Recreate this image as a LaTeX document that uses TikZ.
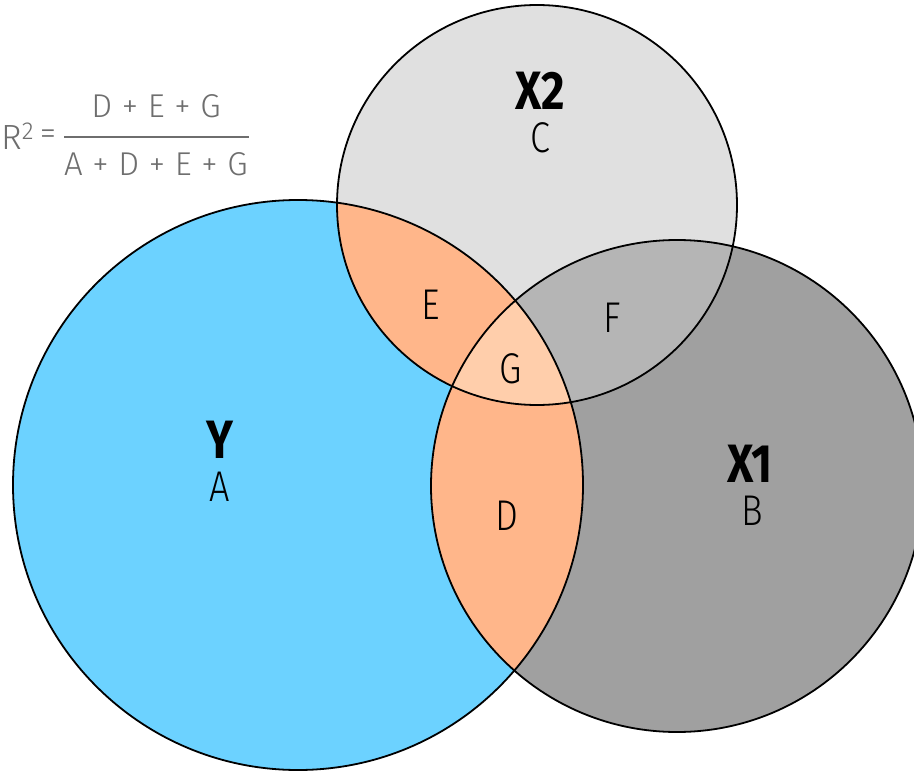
\documentclass[tikz,border=0pt]{standalone}
\usepackage{fontspec}
\setmainfont{Fira Sans}
\newfontfamily\thinfont{Fira Sans Light}[FakeStretch=0.84]
\newfontfamily\heavyfont{Fira Sans Bold}[FakeStretch=0.84]
\newfontfamily\formfont{Fira Sans Light}[WordSpace=1.05]

\definecolor{ycol}{HTML}{6CD2FF}
\definecolor{xonecol}{HTML}{A0A0A0}
\definecolor{xtwocol}{HTML}{E0E0E0}
\definecolor{fcol}{HTML}{B5B5B5}
\definecolor{dcol}{HTML}{FFB68A}
\definecolor{gcol}{HTML}{FFCEAB}
\definecolor{formulagray}{HTML}{6E6E6E}

\begin{document}
\begin{tikzpicture}[x=1pt,y=-1pt,
  outline/.style={draw=black,line width=1.8pt},
  biglabel/.style={font=\heavyfont\fontsize{54}{54}\selectfont,inner sep=0pt},
  letterlabel/.style={font=\thinfont\fontsize{43}{43}\selectfont,inner sep=0pt},
  formula/.style={font=\formfont\fontsize{33}{33}\selectfont,text=formulagray,inner sep=0pt}]
\useasboundingbox (0,0) rectangle (914,771);
\clip (0,0) rectangle (914,771);

% circle centres
\coordinate (cy) at (298,485);
\coordinate (cxone) at (677,486);
\coordinate (cxtwo) at (537,205);

% plain circle fills
\fill[xonecol] (cxone) circle[radius=246pt];
\fill[xtwocol] (cxtwo) circle[radius=200pt];
% X1 and X2 overlap
\begin{scope}
  \clip (cxone) circle[radius=246pt];
  \fill[fcol] (cxtwo) circle[radius=200pt];
\end{scope}
\fill[ycol] (cy) circle[radius=285pt];
% Y overlaps
\begin{scope}
  \clip (cy) circle[radius=285pt];
  \fill[dcol] (cxone) circle[radius=246pt];
  \fill[dcol] (cxtwo) circle[radius=200pt];
  \clip (cxone) circle[radius=246pt];
  \fill[gcol] (cxtwo) circle[radius=200pt];
\end{scope}

% outlines
\draw[outline] (cy) circle[radius=285pt];
\draw[outline] (cxone) circle[radius=246pt];
\draw[outline] (cxtwo) circle[radius=200pt];

% circle names and region letters
\node[biglabel] (nx2) at (540,91) {X2};
\node[letterlabel] (lc) at (540,138) {C};
\node[biglabel] (ny) at (220,440) {Y};
\node[letterlabel] (la) at (220,487) {A};
\node[biglabel] (nx1) at (750,464) {X1};
\node[letterlabel] (lb) at (752,511) {B};
\node[letterlabel] (le) at (431,305) {E};
\node[letterlabel] (lf) at (612,318) {F};
\node[letterlabel] (lg) at (511,369) {G};
\node[letterlabel] (ld) at (507,516) {D};

% R-squared formula
\node[formula,anchor=base west,font=\formfont\fontsize{35}{35}\selectfont] (rsq) at (1,149) {R\textsuperscript{2}};
\node[formula] (eq) at (48,137) {=};
\node[formula,anchor=base] (num) at (156,117) {D + E + G};
\node[formula,anchor=base] (den) at (156,175) {A + D + E + G};
\coordinate (fracl) at (64,137);
\coordinate (fracr) at (249,137);
\draw[formulagray,line width=1.6pt] (fracl) -- (fracr);
\end{tikzpicture}
\end{document}
